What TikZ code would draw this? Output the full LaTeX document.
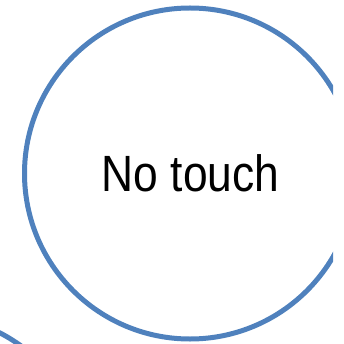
\documentclass[tikz,border=0pt]{standalone}
\usepackage{fontspec}
\setmainfont{Liberation Sans}
\definecolor{ringblue}{HTML}{4F81BD}
\tikzset{ring/.style={draw=ringblue, line width=5pt}}
\begin{document}
\begin{tikzpicture}[x=1pt,y=-1pt]
\useasboundingbox (0,0) rectangle (344,344);
\begin{scope}
\clip (0,0) rectangle (333,344);
\node[ring, circle, minimum size=331pt, inner sep=0pt] (main) at (190,173.5) {};
\node[ring, circle, minimum size=331pt, inner sep=0pt] (other) at (-76,480) {};
\end{scope}
\node[inner sep=0pt] (label) at (190.5,173.5) {\scalebox{0.87}[1]{\fontsize{51pt}{51pt}\selectfont No touch}};
\end{tikzpicture}
\end{document}
